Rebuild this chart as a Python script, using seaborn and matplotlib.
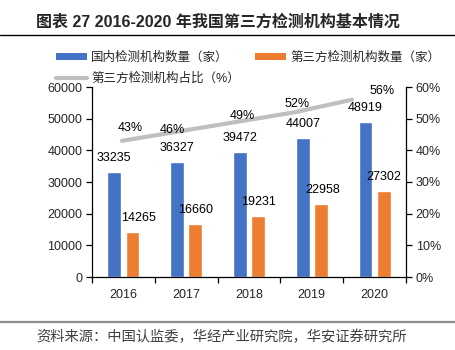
import numpy as np
import pandas as pd
import matplotlib
matplotlib.use("Agg")
import matplotlib.pyplot as plt
import matplotlib.ticker as mticker
from matplotlib.lines import Line2D
from matplotlib.patches import Patch
import seaborn as sns

# data
years = ["2016", "2017", "2018", "2019", "2020"]
domestic = [33235, 36327, 39472, 44007, 48919]
third_party = [14265, 16660, 19231, 22958, 27302]
share = [0.43, 0.46, 0.49, 0.52, 0.56]
share_labels = ["43%", "46%", "49%", "52%", "56%"]

name_dom = "国内检测机构数量（家）"
name_3rd = "第三方检测机构数量（家）"
name_share = "第三方检测机构占比（%）"

title = "图表 27 2016-2020 年我国第三方检测机构基本情况"
source = "资料来源：中国认监委，华经产业研究院，华安证券研究所"

c_blue = "#4472C4"
c_orange = "#ED7D31"
c_gray = "#BFBFBF"

sns.set_theme(style="white")
plt.rcParams['font.family'] = ['Liberation Sans', 'Noto Sans CJK SC', 'DejaVu Sans']

df = pd.DataFrame({
    "year": years * 2,
    "count": domestic + third_party,
    "kind": [name_dom] * 5 + [name_3rd] * 5,
})

fig = plt.figure(figsize=(4.56, 3.5), dpi=100)
ax = fig.add_axes([92 / 456, 73 / 350, 314 / 456, 190 / 350])

sns.barplot(data=df, x="year", y="count", hue="kind", order=years,
            palette=[c_blue, c_orange], saturation=1, width=0.58, gap=0.24,
            ax=ax, legend=False)

ax.set_ylim(0, 60000)
ax.set_xlim(-0.5, 4.5)
ax.yaxis.set_major_locator(mticker.MultipleLocator(10000))
ax.set_xlabel("")
ax.set_ylabel("")
for s in ["top", "right"]:
    ax.spines[s].set_visible(False)
for s in ["left", "bottom"]:
    ax.spines[s].set_color("black")
    ax.spines[s].set_linewidth(0.9)
ax.tick_params(axis="y", direction="out", length=4, width=0.9, color="black",
               left=True, labelsize=9, pad=3)
ax.set_xticks(np.arange(5))
ax.set_xticklabels(years)
ax.set_xticks(np.arange(-0.5, 5, 1), minor=True)
ax.tick_params(axis="x", which="major", length=0, labelsize=9, pad=9)
ax.tick_params(axis="x", which="minor", direction="out", length=4, width=0.9,
               color="black", bottom=True)

# value labels on the bars
bar_dx = [[0] * 5, [4, 0, 0, 1, 0]]
for k, cont in enumerate(ax.containers):
    for j, rect in enumerate(cont):
        h = rect.get_height()
        ax.annotate(f"{int(round(h))}", (rect.get_x() + rect.get_width() / 2, h),
                    xytext=(bar_dx[k][j], 10), textcoords="offset points",
                    ha="center", va="center", fontsize=9, color="black")

# right axis for the share line
ax2 = ax.twinx()
ax2.set_ylim(0, 0.6)
ax2.yaxis.set_major_locator(mticker.MultipleLocator(0.1))
ax2.yaxis.set_major_formatter(mticker.PercentFormatter(1.0, decimals=0))
for s in ["top", "left", "bottom"]:
    ax2.spines[s].set_visible(False)
ax2.spines["right"].set_color("black")
ax2.spines["right"].set_linewidth(0.9)
ax2.tick_params(axis="y", direction="out", length=4, width=0.9, color="black",
                right=True, labelsize=9, pad=3)
ax2.grid(False)

# the line sits on its own horizontal scale (as in the original)
ax3 = ax2.twiny()
ax3.set_xlim(-0.52, 4.94)
ax3.axis("off")
sns.lineplot(x=np.arange(len(years)), y=share, ax=ax3, color=c_gray,
             linewidth=3, legend=False)
ax3.set_ylim(0, 0.6)
label_offsets = [(6, 9), (-5, 1), (4, 4), (2, 6), (22, 6)]
for i, (v, t) in enumerate(zip(share, share_labels)):
    ax3.annotate(t, (i, v), xytext=label_offsets[i], textcoords="offset points",
                 ha="center", va="center", fontsize=9, color="black")

# legend
handles = [
    Patch(facecolor=c_blue, edgecolor="none", label=name_dom),
    Line2D([0], [0], color=c_gray, lw=3, label=name_share),
    Patch(facecolor=c_orange, edgecolor="none", label=name_3rd),
]
fig.legend(handles=handles, ncol=2, loc="upper left",
           bbox_to_anchor=(56 / 456, 1 - 52 / 350), frameon=False,
           fontsize=9, handlelength=2.5, handleheight=0.45, handletextpad=0.32,
           columnspacing=1.2, labelspacing=0.65, borderpad=0, borderaxespad=0)

# title, rules and source
fig.text(218 / 456, 1 - 22 / 350, title, ha="center", va="center",
         fontsize=11.5, fontweight="bold")
fig.add_artist(Line2D([0, 1], [1 - 35 / 350] * 2, color="black", lw=1.0))
fig.add_artist(Line2D([0, 1], [1 - 322 / 350] * 2, color="#8c8c8c", lw=1.6))
fig.text(36 / 456, 1 - 337 / 350, source, ha="left", va="center",
         fontsize=10.3, color="#404040")

fig.savefig("out.png", dpi=100)
